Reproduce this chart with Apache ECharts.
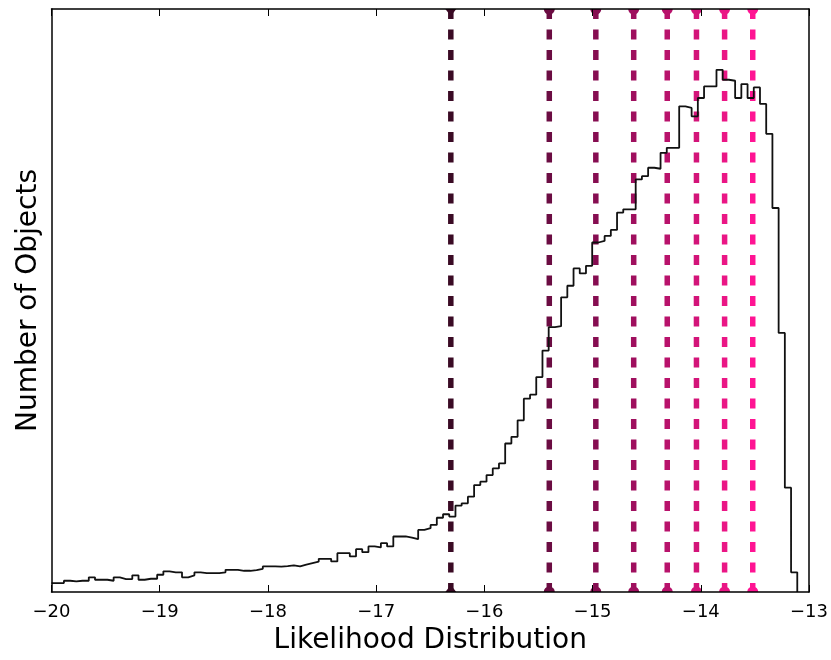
<!DOCTYPE html>
<html><head><meta charset="utf-8">
<script src="https://cdn.jsdelivr.net/npm/echarts@6/dist/echarts.min.js"></script>
<style>html,body{margin:0;padding:0;background:#fff}#c{width:831px;height:660px}</style>
</head><body><div id="c"></div>
<script>
// Histogram: 120 bins starting at -20
const binStart = -20;
const binWidth = 0.05743;
const counts = [
  9, 9, 11.3, 10.7, 11.3, 11.3, 14.7, 12.3, 12.3, 11.3,
  14.7, 13, 13, 16.7, 12.3, 13.3, 13.3, 17.3, 20.7, 19.7,
  19.7, 14.7, 16.7, 19.7, 19, 19, 19, 19.7, 22.3, 22.3,
  21.3, 21.3, 22, 23.3, 25.7, 25.7, 25.5, 26, 26.7, 25.7,
  27.5, 29, 30.5, 33.3, 33.3, 30.7, 39, 39, 35.7, 43,
  40, 45.7, 44.7, 49, 45.7, 55.7, 55.7, 54.5, 53, 62.3,
  64, 67.3, 74.5, 78, 75.7, 86.7, 89, 95.7, 107.3, 110.7,
  117.3, 124, 129, 149, 155.7, 172.3, 194, 198, 215.7, 242.3,
  265.7, 266.7, 295.7, 307.3, 324.7, 319.7, 327.3, 350.7, 352.3, 357.3,
  363.3, 380.7, 384, 384, 414, 417.3, 425.7, 424.7, 440.7, 445.7,
  445.7, 487.3, 485.7, 477.3, 495.7, 507.3, 507.3, 524, 514, 513,
  495.7, 509.7, 495.7, 506.3, 489.7, 459.7, 385.3, 260, 104.7, 19.7
];
const cutValues = [-16.31, -15.40, -14.97, -14.62, -14.31, -14.04, -13.78, -13.52];
const cutColors = ['#3a0a24', '#6b0c42', '#860d51', '#9f0f5e', '#b8126b', '#d31479', '#ea1685', '#ff1493'];
const cutMarkers = ['diamond', 'circle', 'circle', 'circle', 'circle', 'circle', 'circle', 'circle'];
const xMin = -20, xMax = -13, xInterval = 1;
const yMax = 585;

const FONT = 'DejaVu Sans';

const histData = counts.map((c, j) => [binStart + j * binWidth, c]);
histData.push([binStart + counts.length * binWidth, 0]);

const series = [];
cutValues.forEach((v, i) => {
  series.push({
    type: 'line', data: [[v, yMax], [v, 0]], symbol: 'none', silent: true, z: 2,
    lineStyle: { color: cutColors[i], width: 5.5, type: [10, 10.5], cap: 'butt' }
  });
});
series.push({
  type: 'line', data: histData, step: 'end', symbol: 'none', silent: true, z: 4,
  lineStyle: { color: '#111', width: 1.8 }
});
series.push({
  type: 'custom', z: 3, silent: true,
  data: cutValues.map((v, i) => [v, i]),
  renderItem: function (params, api) {
    const v = api.value(0), i = api.value(1);
    const top = api.coord([v, yMax]);
    const bot = api.coord([v, 0]);
    const col = cutColors[i];
    const r = 5.5;
    let children;
    if (cutMarkers[i] === 'diamond') {
      children = [
        { type: 'polygon', shape: { points: [[top[0] - r, top[1]], [top[0] + r, top[1]], [top[0], top[1] + 7]] }, style: { fill: col } },
        { type: 'polygon', shape: { points: [[bot[0] - r, bot[1]], [bot[0] + r, bot[1]], [bot[0], bot[1] - 7]] }, style: { fill: col } }
      ];
    } else {
      children = [
        { type: 'sector', shape: { cx: top[0], cy: top[1], r0: 0, r: r, startAngle: 0, endAngle: Math.PI, clockwise: true }, style: { fill: col } },
        { type: 'sector', shape: { cx: bot[0], cy: bot[1], r0: 0, r: r, startAngle: Math.PI, endAngle: 2 * Math.PI, clockwise: true }, style: { fill: col } }
      ];
    }
    return { type: 'group', children: children };
  }
});

const axisLineStyle = { show: true, onZero: false, lineStyle: { color: '#000', width: 1.5 } };
const option = {
  animation: false,
  backgroundColor: '#fff',
  grid: { left: 51.5, right: 21, top: 9, bottom: 65.7, containLabel: false },
  xAxis: [
    {
      type: 'value', position: 'bottom', min: xMin, max: xMax, interval: xInterval, z: 10,
      axisLine: axisLineStyle,
      axisTick: { show: true, inside: true, length: 7, lineStyle: { color: '#000', width: 1 } },
      axisLabel: { fontSize: 18, fontFamily: FONT, color: '#000', margin: 11,
        formatter: v => String(v).replace('-', '\u2212') },
      splitLine: { show: false },
      name: 'Likelihood Distribution', nameLocation: 'middle', nameGap: 35,
      nameTextStyle: { fontSize: 28, fontFamily: FONT, color: '#000' }
    },
    {
      type: 'value', position: 'top', min: xMin, max: xMax, interval: xInterval, z: 10,
      axisLine: axisLineStyle,
      axisTick: { show: true, inside: true, length: 7, lineStyle: { color: '#000', width: 1 } },
      axisLabel: { show: false }, splitLine: { show: false }
    }
  ],
  yAxis: [
    {
      type: 'value', position: 'left', min: 0, max: yMax, z: 10,
      axisLine: axisLineStyle, axisTick: { show: false }, axisLabel: { show: false },
      splitLine: { show: false },
      name: 'Number of Objects', nameLocation: 'middle', nameGap: 9,
      nameTextStyle: { fontSize: 28, fontFamily: FONT, color: '#000' }
    },
    {
      type: 'value', position: 'right', min: 0, max: yMax, z: 10,
      axisLine: axisLineStyle, axisTick: { show: false }, axisLabel: { show: false },
      splitLine: { show: false }
    }
  ],
  series: series
};
const chart = echarts.init(document.getElementById('c'), null, { renderer: 'canvas' });
chart.setOption(option);
</script>
</body></html>
